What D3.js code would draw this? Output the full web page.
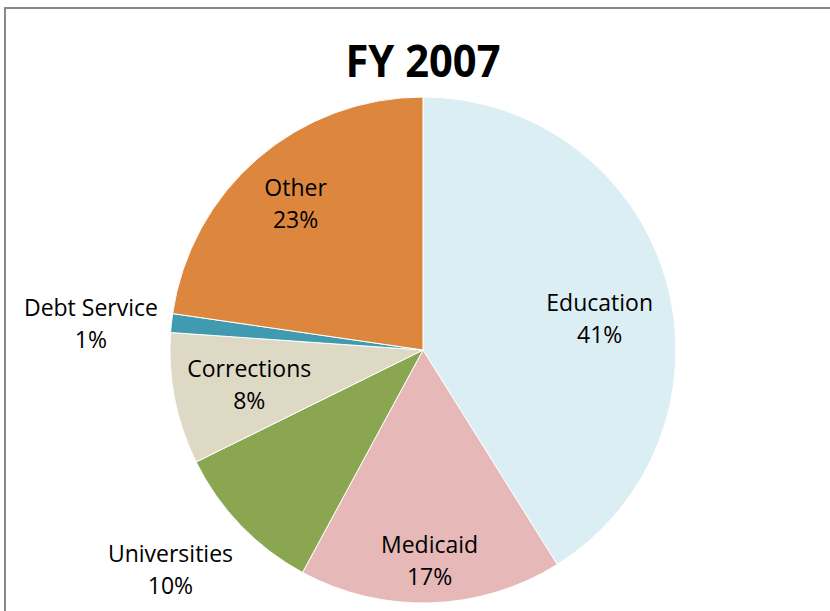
<!DOCTYPE html>
<html>
<head>
<meta charset="utf-8">
<script src="https://cdn.jsdelivr.net/npm/d3@7"></script>
<style>
  html, body { margin: 0; padding: 0; background: #fff; }
  svg { display: block; }
</style>
</head>
<body>
<svg id="chart" width="830" height="611"></svg>
<script>
// ---- data ----
const categories = ['Education', 'Medicaid', 'Universities', 'Corrections', 'Debt Service', 'Other'];
const shares = [41.1, 16.8, 9.8, 8.4, 1.2, 22.7];
const title = 'FY 2007';

// ---- styling / layout ----
const colors = ['#DBEEF3', '#E6B8B7', '#8AA650', '#DDD9C4', '#409AB0', '#DD873E'];
const width = 830, height = 611;
const cx = 423, cy = 350, radius = 253;
// label distance (fraction of radius) + small nudge, Excel "best fit" style
const labelRadius = [0.71, 0.83, 1.32, 0.70, 1.32, 0.77];
const labelNudge = [[4, 18], [0, 0], [-12, -13], [0, 0], [0, 9], [0, 0]];
const font = '"Open Sans", "Noto Sans", Arial, sans-serif';

const svg = d3.select('#chart');

// frame (chart area border, cut off on right / bottom)
svg.append('rect')
  .attr('x', 5).attr('y', 8)
  .attr('width', width + 20).attr('height', height + 20)
  .attr('fill', '#fff')
  .attr('stroke', '#888')
  .attr('stroke-width', 2);

svg.append('text')
  .attr('x', cx).attr('y', 77)
  .attr('text-anchor', 'middle')
  .attr('font-family', font)
  .attr('font-weight', 'bold')
  .attr('font-size', 44)
  .attr('textLength', 155)
  .attr('lengthAdjust', 'spacingAndGlyphs')
  .attr('fill', '#000')
  .text(title);

const data = categories.map((c, i) => ({ label: c, value: shares[i], i: i }));

const pie = d3.pie()
  .value(d => d.value)
  .sort(null);

const arc = d3.arc()
  .innerRadius(0)
  .outerRadius(radius);

const arcs = pie(data);

const g = svg.append('g').attr('transform', 'translate(' + cx + ',' + cy + ')');

g.selectAll('path')
  .data(arcs)
  .enter().append('path')
  .attr('d', arc)
  .attr('fill', d => colors[d.data.i])
  .attr('stroke', '#fff')
  .attr('stroke-width', 1);

const total = d3.sum(shares);

const labels = g.selectAll('text.lbl')
  .data(arcs)
  .enter().append('text')
  .attr('class', 'lbl')
  .attr('text-anchor', 'middle')
  .attr('font-family', font)
  .attr('font-size', 23)
  .attr('fill', '#000')
  .attr('transform', d => {
    const a = (d.startAngle + d.endAngle) / 2;
    const r = labelRadius[d.data.i] * radius;
    const n = labelNudge[d.data.i];
    const x = Math.sin(a) * r + n[0];
    const y = -Math.cos(a) * r + n[1];
    return 'translate(' + x + ',' + y + ')';
  });

labels.append('tspan')
  .attr('x', 0).attr('y', -7)
  .text(d => d.data.label);

labels.append('tspan')
  .attr('x', 0).attr('y', 25)
  .text(d => Math.round(d.data.value / total * 100) + '%');
</script>
</body>
</html>
